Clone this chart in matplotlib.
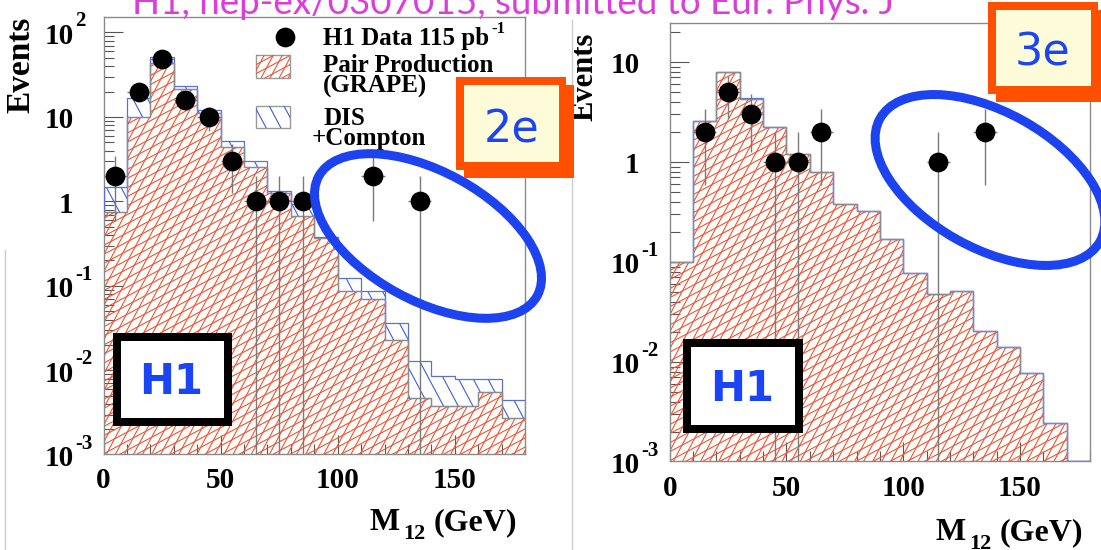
import numpy as np
import matplotlib
matplotlib.use("Agg")
import matplotlib.pyplot as plt
from matplotlib.patches import Rectangle, Ellipse
from matplotlib.collections import LineCollection
from matplotlib.transforms import IdentityTransform, blended_transform_factory, offset_copy
from matplotlib.ticker import LogLocator, MultipleLocator, NullFormatter, FixedLocator

# ---------------- data ----------------
bin_edges = [0, 10, 20, 30, 40, 50, 60, 70, 80, 90, 100, 110, 120, 130, 140, 150, 160, 170, 180]

# 2e sample
mass_2e = [5, 15, 25, 35, 45, 55, 65, 75, 85, 115, 135]
events_2e = [2, 20, 49, 16, 10, 3, 1, 1, 1, 2, 1]
pair_2e = [0.76, 10.0, 43.0, 21.3, 11.0, 4.45, 2.58, 1.25, 0.67, 0.37, 0.088, 0.070,
           0.023, 0.0047, 0.0038, 0.0038, 0.0056, 0.0027]
dis_2e = [0.71, 6.9, 8.6, 2.0, 1.1, 0.75, 0.46, 0.09, 0.26, 0.01, 0.035, 0.018,
          0.013, 0.0083, 0.0048, 0.0041, 0.0023, 0.0017]

# 3e sample
mass_3e = [15, 25, 35, 45, 55, 65, 115, 135]
events_3e = [2, 5, 3, 1, 1, 2, 1, 2]
pair_3e = [0.10, 2.59, 7.9, 4.3, 2.22, 1.19, 0.80, 0.38, 0.326, 0.17, 0.077, 0.048,
           0.051, 0.0206, 0.0142, 0.0078, 0.00247, 0.0]
dis_3e = [0.0, 0.0, 0.1, 0.05, 0.0, 0.02, 0.0, 0.0, 0.0, 0.0, 0.0, 0.0,
          0.0, 0.0, 0.0, 0.0, 0.0, 0.0]

x_ticks = [0, 50, 100, 150]
x_tick_labels = ["0", "50", "100", "150"]
y_ticks_2e = [1e-3, 1e-2, 1e-1, 1, 10, 100]
y_tick_labels_2e = [("10", "-3"), ("10", "-2"), ("10", "-1"), ("1", ""), ("10", ""), ("10", "2")]
y_ticks_3e = [1e-3, 1e-2, 1e-1, 1, 10]
y_tick_labels_3e = [("10", "-3"), ("10", "-2"), ("10", "-1"), ("1", ""), ("10", "")]

title_text = "H1, hep-ex/0307015, submitted to Eur. Phys. J"
legend_data = "H1 Data 115 pb"
legend_data_exp = "-1"
legend_pair = ["Pair Production", "(GRAPE)"]
legend_dis = ["DIS", "+Compton"]

# ---------------- style ----------------
W, H = 1101, 550
SERIF = "Liberation Serif"
RED = "#ee5533"
BLUE_H = "#3a5de6"
BLUE_LINE = "#5a70d8"
GRAY_LINE = "#8c8c8c"
SPINE = "#8a8a8a"
PINK = "#dc3cdc"
ORANGE = "#ff4f00"
CREAM = "#fefcd8"
ELL_BLUE = "#1d43f0"
TXT_BLUE = "#1a44f5"
RED_ANGLES = [28, 62]
RED_SPACING = 8.0
BLUE_ANGLES = [-62]
BLUE_SPACING = 13

fig = plt.figure(figsize=(W / 100, H / 100), dpi=100)
fig.patch.set_facecolor("white")


def px_axes(left, top, right, bottom):
    return fig.add_axes([left / W, 1 - bottom / H, (right - left) / W, (bottom - top) / H])


def add_hatch(ax, clip_patch, angles, spacing, color, lw=0.9, zorder=2):
    segs = []
    cx, cy, R = W / 2, H / 2, 1300
    for ang in angles:
        th = np.deg2rad(ang)
        d = np.array([np.cos(th), np.sin(th)])
        n = np.array([-np.sin(th), np.cos(th)])
        for o in np.arange(-R, R, spacing):
            p = np.array([cx, cy]) + o * n
            segs.append([p - R * d, p + R * d])
    lc = LineCollection(segs, colors=color, linewidths=lw,
                        transform=IdentityTransform(), zorder=zorder)
    ax.add_collection(lc, autolim=False)
    lc.set_clip_path(clip_patch)
    return lc


def draw_panel(ax, pair, dis, mass, events, ylim, yticks, ylabels):
    ax.set_yscale("log")
    ax.set_xlim(bin_edges[0], bin_edges[-1])
    ax.set_ylim(*ylim)
    edges = np.asarray(bin_edges, float)
    base = ylim[0]
    pair = np.asarray(pair, float)
    total = pair + np.asarray(dis, float)
    pair_p = np.maximum(pair, base)
    total_p = np.maximum(total, base)

    red = ax.stairs(pair_p, edges, baseline=base, fill=True,
                    facecolor="white", edgecolor="none", zorder=1)
    add_hatch(ax, red, RED_ANGLES, RED_SPACING, RED, lw=0.8, zorder=2)
    blue = ax.stairs(total_p, edges, baseline=pair_p, fill=True,
                     facecolor="white", edgecolor="none", zorder=1)
    add_hatch(ax, blue, BLUE_ANGLES, BLUE_SPACING, BLUE_H, lw=0.8, zorder=2)
    ax.stairs(total_p, edges, baseline=pair_p, fill=False,
              edgecolor=BLUE_LINE, lw=0.9, zorder=3)
    ax.stairs(pair_p, edges, baseline=None, fill=False,
              edgecolor=GRAY_LINE, lw=0.9, zorder=3)

    half = np.diff(edges)[0] / 2
    ev = np.asarray(events, float)
    ax.errorbar(mass, ev, yerr=np.sqrt(ev), xerr=half, fmt="o", ms=13.2,
                mfc="black", mec="black", ecolor="#7a7a7a", elinewidth=1.0,
                capsize=0, zorder=5)

    for s in ax.spines.values():
        s.set_color(SPINE)
        s.set_linewidth(1.0)
    ax.xaxis.set_major_locator(FixedLocator(x_ticks))
    ax.xaxis.set_minor_locator(MultipleLocator(10))
    ax.yaxis.set_major_locator(FixedLocator(yticks))
    ax.yaxis.set_minor_locator(LogLocator(base=10, subs=np.arange(2, 10), numticks=30))
    ax.yaxis.set_minor_formatter(NullFormatter())
    ax.tick_params(which="major", direction="in", length=14, width=0.8, color="#555555",
                   labelleft=False, labelbottom=False, top=False, right=False)
    ax.tick_params(which="minor", direction="in", length=7, width=0.8, color="#555555",
                   top=False, right=False)

    # tick labels (ROOT-like)
    ty = blended_transform_factory(ax.transAxes, ax.transData)
    for v, (m, e) in zip(yticks, ylabels):
        ax.text(0, v, m, transform=offset_copy(ty, fig=fig, x=-30, y=-4, units="dots"),
                ha="right", va="center", fontsize=21, fontweight="bold", family=SERIF,
                clip_on=False)
        if e:
            ax.text(0, v, e, transform=offset_copy(ty, fig=fig, x=-28, y=11, units="dots"),
                    ha="left", va="center", fontsize=15, fontweight="bold", family=SERIF,
                    clip_on=False)
    tx = blended_transform_factory(ax.transData, ax.transAxes)
    for v, lab in zip(x_ticks, x_tick_labels):
        ax.text(v, 0, lab, transform=offset_copy(tx, fig=fig, x=0, y=-27, units="dots"),
                ha="center", va="center", fontsize=21, fontweight="bold", family=SERIF,
                clip_on=False)


axL = px_axes(103.5, 16.7, 525, 454)
draw_panel(axL, pair_2e, dis_2e, mass_2e, events_2e, (10 ** -2.99, 10 ** 2.187),
           y_ticks_2e, y_tick_labels_2e)
axR = px_axes(669.7, 22.7, 1090, 461)
draw_panel(axR, pair_3e, dis_3e, mass_3e, events_3e, (10 ** -2.99, 10 ** 1.393),
           y_ticks_3e, y_tick_labels_3e)

# ---------------- overlay (pixel coordinates, y down) ----------------
ov = fig.add_axes([0, 0, 1, 1])
ov.set_xlim(0, W)
ov.set_ylim(H, 0)
ov.set_axis_off()
ov.patch.set_visible(False)
ov.set_zorder(10)

# page borders of the two pictures
ov.plot([5, 5], [250, 550], color="#cccccc", lw=1, zorder=1)
ov.plot([572, 572], [20, 550], color="#cccccc", lw=1, zorder=1)

# title (top of the letters is cut by the picture edge, as in the original)
t = ov.text(132, 14, title_text, fontsize=20, color=PINK, ha="left", va="baseline",
            family="Lato", zorder=3)
fig.canvas.draw()
bb = t.get_window_extent()
t.set_fontsize(20 * 764 / bb.width)

# axis titles
bold = dict(fontweight="bold", family=SERIF, color="black", zorder=3)
ov.text(21, 65, "Events", rotation=90, ha="center", va="center", fontsize=24, **bold)
ov.text(585, 77, "Events", rotation=90, ha="center", va="center", fontsize=22, **bold)
for x0, y0 in [(370, 523), (936, 533)]:
    ov.text(x0, y0, "M", ha="left", va="center", fontsize=23, **bold)
    ov.text(x0 + 33, y0 + 11, "12", ha="left", va="center", fontsize=16, **bold)
    ov.text(x0 + 64, y0, "(GeV)", ha="left", va="center", fontsize=23, **bold)

# legend
ov.plot([285], [37], "o", ms=13.2, color="black", zorder=4)
td = ov.text(323, 45, legend_data, ha="left", va="baseline", fontsize=18, **bold)
fig.canvas.draw()
xe = td.get_window_extent().x1
ov.text(xe + 2, 33, legend_data_exp, ha="left", va="baseline", fontsize=12, **bold)
rbox = Rectangle((256, 55), 34, 23, facecolor="white", edgecolor="#999999", lw=1, zorder=3)
ov.add_patch(rbox)
add_hatch(ov, rbox, RED_ANGLES, RED_SPACING, RED, lw=0.8, zorder=3.5)
bbox_ = Rectangle((256, 106), 34, 22, facecolor="white", edgecolor="#999999", lw=1, zorder=3)
ov.add_patch(bbox_)
add_hatch(ov, bbox_, BLUE_ANGLES, BLUE_SPACING, BLUE_H, lw=0.8, zorder=3.5)
ov.text(323, 72, legend_pair[0], ha="left", va="baseline", fontsize=18, **bold)
ov.text(323, 93, legend_pair[1], ha="left", va="baseline", fontsize=18, **bold)
ov.text(323, 125, legend_dis[0], ha="left", va="baseline", fontsize=18, **bold)
ov.text(312, 145, legend_dis[1], ha="left", va="baseline", fontsize=18, **bold)

# ellipses
ov.add_patch(Ellipse((428, 236), 249, 129, angle=28.7, fill=False, edgecolor=ELL_BLUE,
                     lw=6.5, zorder=6))
ov.add_patch(Ellipse((990, 180), 252, 136, angle=29.2, fill=False, edgecolor=ELL_BLUE,
                     lw=6.5, zorder=6))


# sample boxes
def sample_box(x0, y0, w, h, label, tx, ty):
    ov.add_patch(Rectangle((x0 + 8, y0 + 8), w, h, facecolor=ORANGE, edgecolor="none", zorder=7))
    ov.add_patch(Rectangle((x0, y0), w, h, facecolor=ORANGE, edgecolor="none", zorder=7))
    ov.add_patch(Rectangle((x0 + 7.5, y0 + 8), w - 15, h - 16, facecolor=CREAM,
                           edgecolor="none", zorder=7.5))
    ov.text(tx, ty, label, ha="center", va="center", fontsize=32, color=TXT_BLUE,
            family="DejaVu Sans", zorder=8)


sample_box(456, 77, 110, 93, "2e", 512, 130)
sample_box(988, 2, 110, 92, "3e", 1043, 53)


def h1_box(x0, y0, w, h, tx, ty):
    ov.add_patch(Rectangle((x0, y0), w, h, facecolor="black", edgecolor="none", zorder=7))
    ov.add_patch(Rectangle((x0 + 8, y0 + 8), w - 16, h - 16, facecolor="white",
                           edgecolor="none", zorder=7.5))
    ov.text(tx, ty, "H1", ha="center", va="center", fontsize=30, color=TXT_BLUE,
            fontweight="bold", family="DejaVu Sans", zorder=8)


h1_box(112.5, 333.3, 119.5, 92.7, 171, 382)
h1_box(682.5, 339.3, 120.5, 93.4, 742, 389)

fig.savefig("out.png", dpi=100, facecolor="white")
